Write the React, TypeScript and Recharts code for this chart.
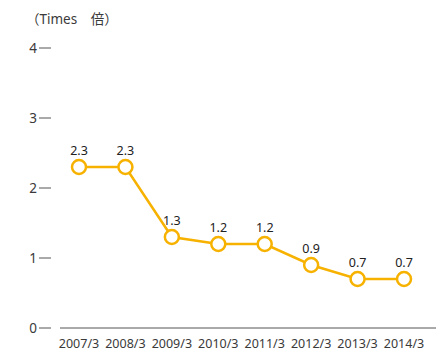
import React from 'react';
import { LineChart, Line, XAxis, YAxis, LabelList } from 'recharts';

const years = ['2007/3', '2008/3', '2009/3', '2010/3', '2011/3', '2012/3', '2013/3', '2014/3'];
const times = [2.3, 2.3, 1.3, 1.2, 1.2, 0.9, 0.7, 0.7];
const yTicks = [0, 1, 2, 3, 4];

const data = years.map((year, i) => ({ year, value: times[i] }));

const FONT = '"Noto Sans", "Noto Sans CJK JP", sans-serif';
const ORANGE = '#F7B200';

const YTick = (props: any) => {
  const { x, y, payload } = props;
  return (
    <g>
      <text x={x - 23} y={y} dy="0.36em" textAnchor="end" fontSize={13.5} fill="#3a3a3a" fontFamily={FONT}>
        {payload.value}
      </text>
      <line x1={x - 21} x2={x - 9} y1={y} y2={y} stroke="#555" strokeWidth={1} />
    </g>
  );
};

const App: React.FC = () => {
  return (
    <div style={{ position: 'absolute', left: 0, top: 0, width: 436, height: 354, background: '#fff' }}>
      <div
        style={{
          position: 'absolute',
          left: 26,
          top: 8,
          fontSize: 13.5,
          color: '#3a3a3a',
          fontFamily: FONT,
          whiteSpace: 'pre',
        }}
      >
        （Times　倍）
      </div>
      <LineChart width={436} height={354} data={data} margin={{ top: 48, right: 0, bottom: 0, left: 0 }}>
        <XAxis
          dataKey="year"
          height={26}
          padding={{ left: 19, right: 32 }}
          axisLine={{ stroke: '#555', strokeWidth: 1 }}
          tickLine={false}
          tickSize={0}
          tickMargin={11}
          tick={{ fontSize: 12.5, fill: '#3a3a3a', fontFamily: FONT }}
          interval={0}
        />
        <YAxis
          width={60}
          domain={[0, 4]}
          ticks={yTicks}
          axisLine={false}
          tickLine={false}
          tickSize={0}
          tickMargin={0}
          tick={<YTick />}
        />
        <Line
          type="linear"
          dataKey="value"
          stroke={ORANGE}
          strokeWidth={2.5}
          dot={{ r: 7, fill: '#fff', stroke: ORANGE, strokeWidth: 2.5 }}
          activeDot={false}
          isAnimationActive={false}
        >
          <LabelList dataKey="value" position="top" offset={12} fontSize={12.5} fill="#222" fontFamily={FONT} />
        </Line>
      </LineChart>
    </div>
  );
};

export default App;
